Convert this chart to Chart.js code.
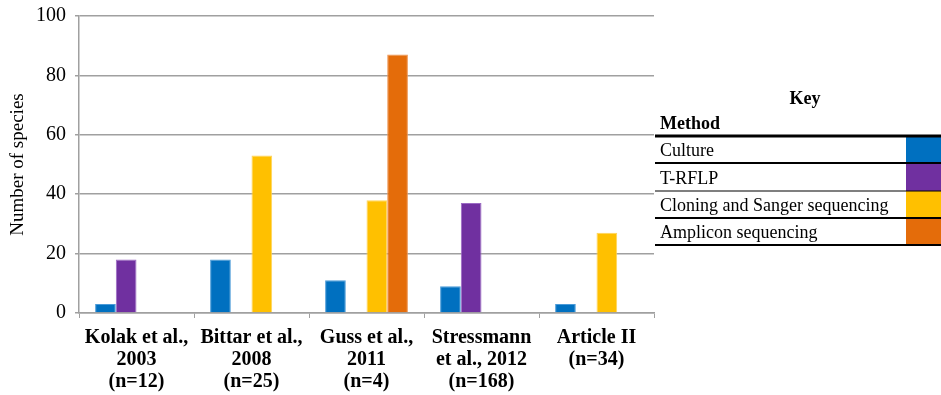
<!DOCTYPE html>
<html>
<head>
<meta charset="utf-8">
<script src="https://cdn.jsdelivr.net/npm/chart.js@4/dist/chart.umd.min.js"></script>
<style>
  html, body { margin: 0; padding: 0; background: #fff; }
  #wrap { width: 941px; height: 395px; position: relative; }
</style>
</head>
<body>
<div id="wrap"><canvas id="chart"></canvas></div>
<script>
// studies on the x axis (multi-line labels)
const studies = [
  ["Kolak et al.,", "2003", "(n=12)"],
  ["Bittar et al.,", "2008", "(n=25)"],
  ["Guss et al.,", "2011", "(n=4)"],
  ["Stressmann", "et al., 2012", "(n=168)"],
  ["Article II", "(n=34)"]
];

const methods = ["Culture", "T-RFLP", "Cloning and Sanger sequencing", "Amplicon sequencing"];

// number of species per method, one value per study
const culture  = [3, 18, 11, 9, 3];
const trflp    = [18, null, null, 37, null];
const cloning  = [null, 53, 38, null, 27];
const amplicon = [null, null, 87, null, null];

const yTicks = [0, 20, 40, 60, 80, 100];

const fills   = ["#0070C0", "#7030A0", "#FFC000", "#E46C0A"];
const borders = ["#4A9AD8", "#9B6AC4", "#FFD45A", "#EE9350"];

const serif = "'Liberation Serif', 'Times New Roman', serif";
const grey = "#A0A0A0";

// method key drawn as a table to the right of the plot
const keyTable = {
  id: "keyTable",
  afterDraw(chart) {
    const ctx = chart.ctx;
    const left = 655, right = 941, swatchLeft = 906;
    const lines = [136, 163, 191, 218, 245];
    const widths = [3, 2, 1.2, 2, 2];
    ctx.save();
    ctx.fillStyle = "#000";
    ctx.textBaseline = "middle";
    ctx.font = "bold 18px " + serif;
    ctx.textAlign = "center";
    ctx.fillText("Key", 805, 99);
    ctx.textAlign = "left";
    ctx.fillText("Method", 660, 124);

    ctx.font = "18px " + serif;
    chart.data.datasets.forEach((ds, i) => {
      const top = lines[i], bottom = lines[i + 1];
      ctx.fillStyle = ds.backgroundColor;
      ctx.fillRect(swatchLeft, top, right - swatchLeft, bottom - top);
      ctx.fillStyle = "#000";
      ctx.fillText(ds.label, 660, (top + bottom) / 2 + 2);
    });

    ctx.strokeStyle = "#000";
    lines.forEach((y, i) => {
      ctx.lineWidth = widths[i];
      ctx.beginPath();
      ctx.moveTo(left, y);
      ctx.lineTo(right, y);
      ctx.stroke();
    });
    ctx.restore();
  }
};

const series = [culture, trflp, cloning, amplicon];

new Chart(document.getElementById("chart"), {
  type: "bar",
  data: {
    labels: studies,
    datasets: series.map((data, i) => ({
      label: methods[i],
      data,
      backgroundColor: fills[i],
      borderColor: borders[i],
      borderWidth: 1,
      borderSkipped: "bottom",
      barPercentage: 1,
      categoryPercentage: 0.72
    }))
  },
  options: {
    responsive: true,
    maintainAspectRatio: false,
    animation: false,
    layout: { padding: { top: 16, right: 287, bottom: 0, left: 0 } },
    plugins: {
      legend: { display: false },
      tooltip: { enabled: false }
    },
    scales: {
      x: {
        grid: {
          offset: true,
          drawOnChartArea: false,
          drawTicks: true,
          tickLength: 5,
          color: grey
        },
        border: { color: grey, width: 1.5 },
        ticks: {
          color: "#000",
          padding: 9,
          maxRotation: 0,
          autoSkip: false,
          font: { family: serif, size: 20, weight: "bold", lineHeight: 1.1 }
        },
        afterFit(scale) {
          scale.height = 82;
          scale.paddingLeft = 0;
          scale.paddingRight = 0;
        }
      },
      y: {
        min: 0,
        max: 100,
        afterBuildTicks(scale) { scale.ticks = yTicks.map(v => ({ value: v })); },
        grid: { color: grey, lineWidth: 1.5, tickLength: 4 },
        border: { color: grey, width: 1.5 },
        ticks: {
          color: "#000",
          padding: 9,
          font: { family: serif, size: 20 }
        },
        title: {
          display: true,
          text: "Number of species",
          color: "#000",
          padding: { top: 7, bottom: 0 },
          font: { family: serif, size: 19 }
        },
        afterFit(scale) {
          scale.width = 79;
          scale.paddingTop = 0;
          scale.paddingBottom = 0;
        }
      }
    }
  },
  plugins: [keyTable]
});
</script>
</body>
</html>
